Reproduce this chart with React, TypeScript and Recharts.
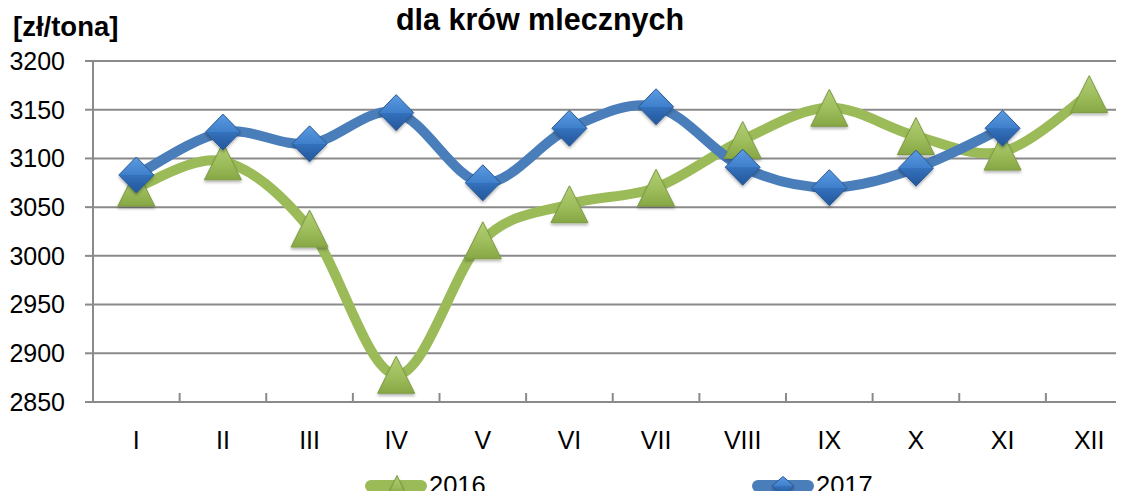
import React from 'react';
import { LineChart, Line, XAxis, YAxis, CartesianGrid, Legend } from 'recharts';

const months = ['I', 'II', 'III', 'IV', 'V', 'VI', 'VII', 'VIII', 'IX', 'X', 'XI', 'XII'];
const prices2016 = [3070, 3097, 3028, 2878, 3016, 3053, 3070, 3119, 3152, 3123, 3107, 3166];
const prices2017 = [3083, 3127, 3115, 3147, 3075, 3131, 3153, 3091, 3070, 3090, 3131, null];
const yTicks = [2850, 2900, 2950, 3000, 3050, 3100, 3150, 3200];

const data = months.map((m, i) => ({ month: m, y2016: prices2016[i], y2017: prices2017[i] }));

const green = '#9bbb59';
const blue = '#4a7ebb';
const gridColor = '#8a8a8a';
const X_TICK_MARGIN = 47;

// Excel-like smoothed line (catmull-rom through the points)
const excelSmooth = (context: any) => {
    let pts: number[][] = [];
    return {
        areaStart() {},
        areaEnd() {},
        lineStart() { pts = []; },
        point(x: number, y: number) { pts.push([+x, +y]); },
        lineEnd() {
            const n = pts.length;
            if (!n) return;
            context.moveTo(pts[0][0], pts[0][1]);
            for (let i = 0; i < n - 1; i++) {
                const p0 = pts[Math.max(i - 1, 0)];
                const p1 = pts[i];
                const p2 = pts[i + 1];
                const p3 = pts[Math.min(i + 2, n - 1)];
                context.bezierCurveTo(
                    p1[0] + (p2[0] - p0[0]) / 6, p1[1] + (p2[1] - p0[1]) / 6,
                    p2[0] - (p3[0] - p1[0]) / 6, p2[1] - (p3[1] - p1[1]) / 6,
                    p2[0], p2[1]
                );
            }
        },
    };
};

const Triangle = ({ cx, cy, w = 37, h = 37 }: any) => (
    <path
        d={`M${cx},${cy - h / 2} L${cx + w / 2},${cy + h / 2} L${cx - w / 2},${cy + h / 2} Z`}
        fill="url(#gradGreen)"
        stroke="#7c9a42"
        strokeWidth={1}
        filter="url(#markerShadow)"
    />
);

const Diamond = ({ cx, cy, w = 35, h = 36 }: any) => (
    <path
        d={`M${cx},${cy - h / 2} L${cx + w / 2},${cy} L${cx},${cy + h / 2} L${cx - w / 2},${cy} Z`}
        fill="url(#gradBlue)"
        stroke="#2a5a95"
        strokeWidth={1}
        filter="url(#markerShadow)"
    />
);

const MonthTick = (props: any) => {
    const { x, y, payload, index, width, visibleTicksCount } = props;
    const half = payload.offset || width / visibleTicksCount / 2;
    const axisY = y - X_TICK_MARGIN;
    return (
        <g>
            <line x1={x - half} x2={x - half} y1={axisY} y2={axisY - 9} stroke={gridColor} strokeWidth={2} />
            {index === visibleTicksCount - 1 && (
                <line x1={x + half} x2={x + half} y1={axisY} y2={axisY - 9} stroke={gridColor} strokeWidth={2} />
            )}
            <text x={x} y={y} textAnchor="middle" fontSize={25} fill="#000">{payload.value}</text>
        </g>
    );
};

const LegendContent = ({ payload }: any) => (
    <div style={{ height: 30, display: 'flex', alignItems: 'flex-start', paddingLeft: 365, gap: 257 }}>
        {(payload || []).map((item: any) => (
            <svg key={item.value} width={130} height={30} style={{ display: 'block', overflow: 'visible' }}>
                <line x1={6} x2={56} y1={17} y2={17} stroke={item.color} strokeWidth={12} strokeLinecap="round" />
                {item.dataKey === 'y2016'
                    ? <Triangle cx={32} cy={16} w={18} h={19} />
                    : <Diamond cx={31} cy={17} w={22} h={19} />}
                <text x={64} y={25} fontSize={25.5} fill="#000">{item.value}</text>
            </svg>
        ))}
    </div>
);

const App: React.FC = () => {
    return (
        <div style={{ margin: -8, width: 1124, height: 499, overflow: 'hidden', position: 'relative', fontFamily: '"Liberation Sans", Arial, sans-serif', background: '#fff' }}>
            <svg width={1124} height={499} style={{ position: 'absolute', left: 0, top: 0, pointerEvents: 'none', zIndex: 2 }}>
                <defs>
                    <linearGradient id="gradGreen" x1="0" y1="0" x2="0" y2="1">
                        <stop offset="0%" stopColor="#b3cf75" />
                        <stop offset="60%" stopColor="#9bbb59" />
                        <stop offset="100%" stopColor="#87a746" />
                    </linearGradient>
                    <linearGradient id="gradBlue" x1="0" y1="0" x2="0" y2="1">
                        <stop offset="0%" stopColor="#5b9be2" />
                        <stop offset="50%" stopColor="#3f7fcb" />
                        <stop offset="51%" stopColor="#3371bc" />
                        <stop offset="100%" stopColor="#24569a" />
                    </linearGradient>
                    <filter id="markerShadow" x="-50%" y="-50%" width="200%" height="200%">
                        <feDropShadow dx="0" dy="2" stdDeviation="1.5" floodColor="#000" floodOpacity="0.3" />
                    </filter>
                </defs>
                <text x={540} y={30} textAnchor="middle" fontSize={30.5} fontWeight="bold" fill="#000">dla krów mlecznych</text>
                <text x={13} y={36} fontSize={27.5} fontWeight="bold" fill="#000">[zł/tona]</text>
            </svg>
            <LineChart width={1140} height={499} data={data} margin={{ top: 61, right: 7.5, left: 0, bottom: 0 }}>
                <CartesianGrid vertical={false} stroke={gridColor} strokeWidth={2} />
                <XAxis
                    dataKey="month"
                    scale="band"
                    height={67}
                    axisLine={{ stroke: gridColor, strokeWidth: 2 }}
                    tickLine={false}
                    tickSize={0}
                    tickMargin={X_TICK_MARGIN}
                    tick={(p: any) => <MonthTick {...p} />}
                    interval={0}
                />
                <YAxis
                    width={93}
                    domain={[2850, 3200]}
                    ticks={yTicks}
                    allowDataOverflow
                    axisLine={{ stroke: gridColor, strokeWidth: 2 }}
                    tickLine={{ stroke: gridColor, strokeWidth: 2 }}
                    tickSize={8}
                    tickMargin={20}
                    tick={{ fontSize: 25, fill: '#000' }}
                />
                <Legend verticalAlign="bottom" content={<LegendContent />} />
                <Line
                    dataKey="y2016"
                    name="2016"
                    type={excelSmooth as any}
                    stroke={green}
                    strokeWidth={10}
                    dot={(p: any) => <Triangle key={`t${p.index}`} cx={p.cx} cy={p.cy} />}
                    activeDot={false}
                    isAnimationActive={false}
                />
                <Line
                    dataKey="y2017"
                    name="2017"
                    type={excelSmooth as any}
                    stroke={blue}
                    strokeWidth={10}
                    dot={(p: any) => (p.value == null ? <g key={`d${p.index}`} /> : <Diamond key={`d${p.index}`} cx={p.cx} cy={p.cy} />)}
                    activeDot={false}
                    isAnimationActive={false}
                />
            </LineChart>
        </div>
    );
};

export default App;
